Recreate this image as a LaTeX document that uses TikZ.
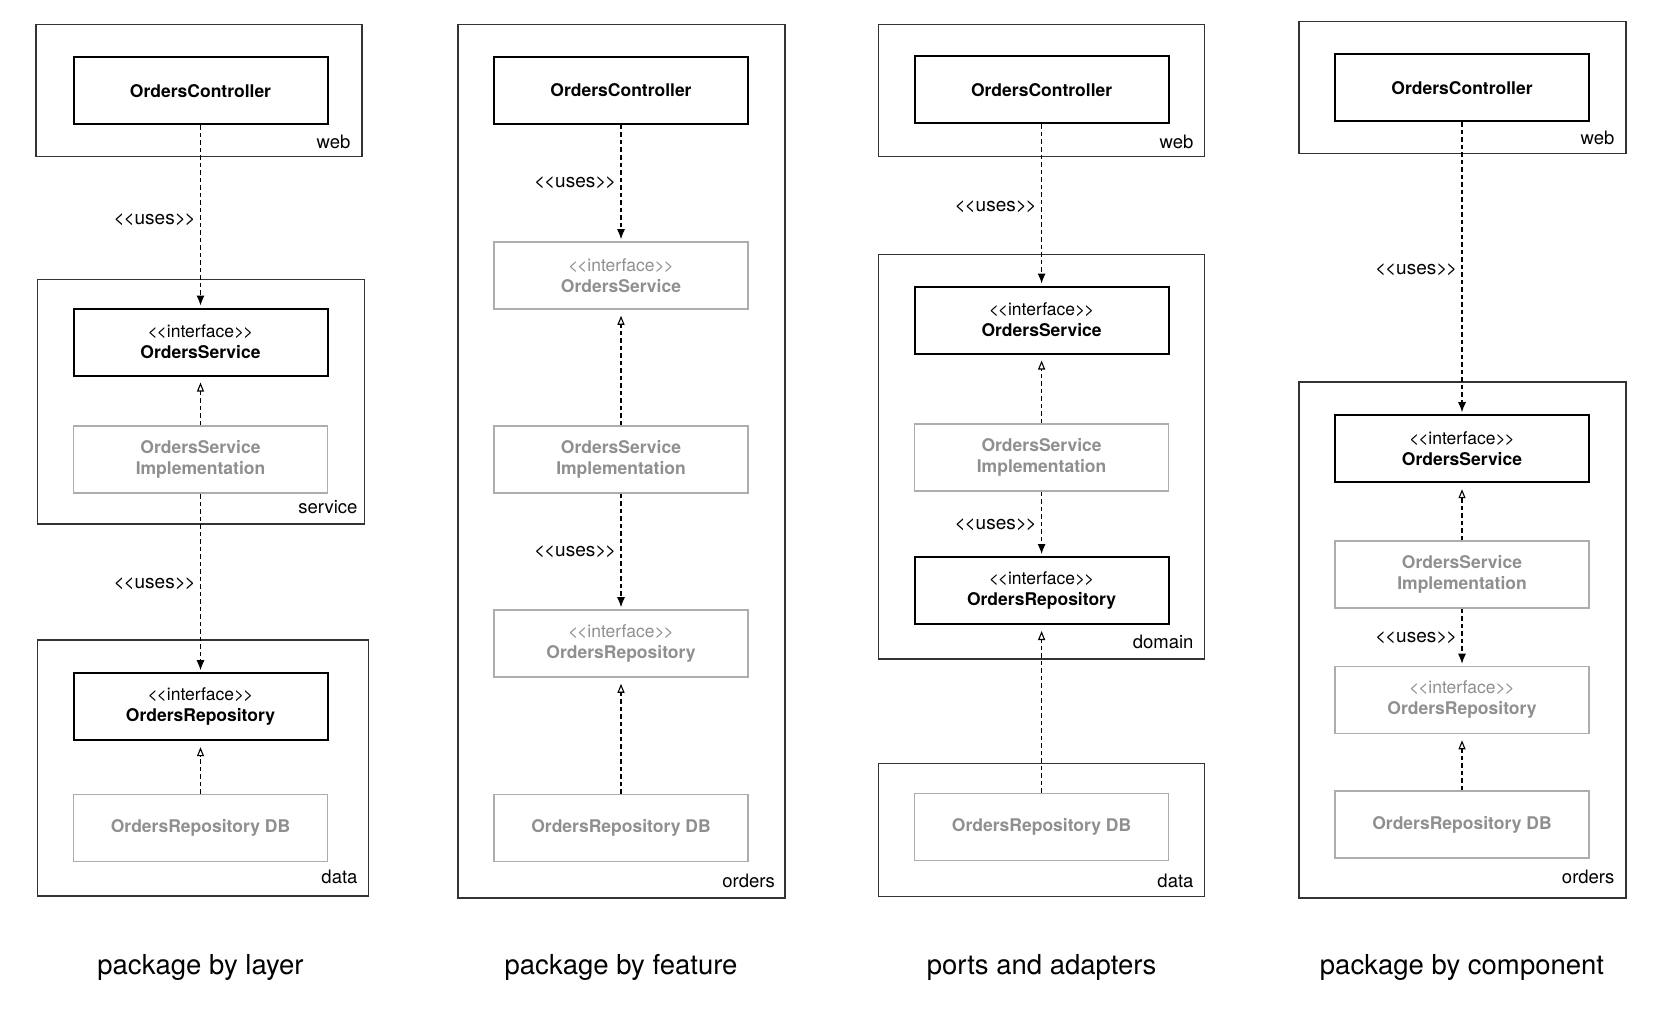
\documentclass[tikz,border=0pt]{standalone}
\usepackage{fontspec}
\setmainfont{TeX Gyre Heros}
\usetikzlibrary{positioning}
\usetikzlibrary{arrows.meta}
\definecolor{dimtext}{gray}{0.56}
\definecolor{dimline}{gray}{0.68}
\newcommand{\stereotype}[1]{<\kern-1.2pt<#1>\kern-1.2pt>}
\newcommand{\iface}[1]{\stereotype{interface}\\\textbf{#1}}
\tikzset{
  cls/.style={draw, line width=2pt, minimum width=254pt, minimum height=67pt,
    align=center, font=\fontsize{17.5}{21}\selectfont},
  dimcls/.style={cls, draw=dimline, line width=1.6pt, text=dimtext},
  pkg/.style={draw=black!80, line width=1.2pt},
  pkglabel/.style={anchor=base east, font=\fontsize{18.5}{21}\selectfont},
  useslabel/.style={anchor=east, inner sep=0pt, font=\fontsize{19}{21}\selectfont},
  uses/.style={dash pattern=on 4.5pt off 3pt, line width=1.1pt,
    -{Latex[length=10pt,width=8pt]}, shorten >=2pt},
  realizes/.style={dash pattern=on 4.5pt off 3pt, line width=1.1pt,
    -{Triangle[open,length=9pt,width=7pt]}, shorten >=6pt},
  caption/.style={font=\fontsize{27.5}{32}\selectfont}
}

\begin{document}
\begin{tikzpicture}[x=1pt, y=-1pt]

\useasboundingbox (0,0) rectangle (1670,1014);

% ---- package by layer ----
\draw[pkg] (36,24.5) rectangle (362,156.7);
\draw[pkg] (37.3,279.3) rectangle (364.3,524);
\draw[pkg] (37.3,640) rectangle (368.5,896);
\node[pkglabel] (web1) at (354,148) {web};
\node[pkglabel] (service1) at (361,513) {service};
\node[pkglabel] (data1) at (361,883) {data};

\node[cls] (ctrl1) at (200.5,90.8) {\textbf{OrdersController}};
\node[cls] (svc1) at (200.5,342) {\iface{OrdersService}};
\node[dimcls] (impl1) at (200.5,459.7) {\textbf{OrdersService}\\\textbf{Implementation}};
\node[cls] (repo1) at (200.5,706.7) {\iface{OrdersRepository}};
\node[dimcls] (db1) at (200.5,828) {\textbf{OrdersRepository DB}};

\draw[uses] (ctrl1) -- (svc1);
\draw[realizes] (impl1) -- (svc1);
\draw[uses] (impl1) -- (repo1);
\draw[realizes] (db1) -- (repo1);
\node[useslabel] (uses1a) at (196,220) {\stereotype{uses}};
\node[useslabel] (uses1b) at (196,584) {\stereotype{uses}};

\node[caption] (cap1) at (200.5,967) {package by layer};

% ---- package by feature ----
\draw[pkg] (458,24.5) rectangle (785,898);
\node[pkglabel] (orders2) at (778.5,887) {orders};

\node[cls] (ctrl2) at (621,90.5) {\textbf{OrdersController}};
\node[dimcls] (svc2) at (621,275.5) {\iface{OrdersService}};
\node[dimcls] (impl2) at (621,459.5) {\textbf{OrdersService}\\\textbf{Implementation}};
\node[dimcls] (repo2) at (621,643.5) {\iface{OrdersRepository}};
\node[dimcls] (db2) at (621,828) {\textbf{OrdersRepository DB}};

\draw[uses] (ctrl2) -- (svc2);
\draw[realizes] (impl2) -- (svc2);
\draw[uses] (impl2) -- (repo2);
\draw[realizes] (db2) -- (repo2);
\node[useslabel] (uses2a) at (616.5,183) {\stereotype{uses}};
\node[useslabel] (uses2b) at (616.5,552) {\stereotype{uses}};

\node[caption] (cap2) at (621,967) {package by feature};

% ---- ports and adapters ----
\draw[pkg] (878.6,24.5) rectangle (1204.5,156.6);
\draw[pkg] (878.6,254.5) rectangle (1204.5,659);
\draw[pkg] (878.6,763.6) rectangle (1204.5,896.7);
\node[pkglabel] (web3) at (1197,149) {web};
\node[pkglabel] (domain3) at (1197,648) {domain};
\node[pkglabel] (data3) at (1197,887) {data};

\node[cls] (ctrl3) at (1041.6,90) {\textbf{OrdersController}};
\node[cls] (svc3) at (1041.6,320) {\iface{OrdersService}};
\node[dimcls] (impl3) at (1041.6,457.5) {\textbf{OrdersService}\\\textbf{Implementation}};
\node[cls] (repo3) at (1041.6,590.5) {\iface{OrdersRepository}};
\node[dimcls] (db3) at (1041.6,827) {\textbf{OrdersRepository DB}};

\draw[uses] (ctrl3) -- (svc3);
\draw[realizes] (impl3) -- (svc3);
\draw[uses] (impl3) -- (repo3);
\draw[realizes] (db3) -- (repo3);
\node[useslabel] (uses3a) at (1037,206.6) {\stereotype{uses}};
\node[useslabel] (uses3b) at (1037,525) {\stereotype{uses}};

\node[caption] (cap3) at (1041.6,967) {ports and adapters};

% ---- package by component ----
\draw[pkg] (1299,21.3) rectangle (1626,153.4);
\draw[pkg] (1299,382) rectangle (1626,898);
\node[pkglabel] (web4) at (1618,145) {web};
\node[pkglabel] (orders4) at (1618,883) {orders};

\node[cls] (ctrl4) at (1462,87.9) {\textbf{OrdersController}};
\node[cls] (svc4) at (1462,448.7) {\iface{OrdersService}};
\node[dimcls] (impl4) at (1462,574.5) {\textbf{OrdersService}\\\textbf{Implementation}};
\node[dimcls] (repo4) at (1462,700) {\iface{OrdersRepository}};
\node[dimcls] (db4) at (1462,824.5) {\textbf{OrdersRepository DB}};

\draw[uses] (ctrl4) -- (svc4);
\draw[realizes] (impl4) -- (svc4);
\draw[uses] (impl4) -- (repo4);
\draw[realizes] (db4) -- (repo4);
\node[useslabel] (uses4a) at (1457.5,269.4) {\stereotype{uses}};
\node[useslabel] (uses4b) at (1457.5,638) {\stereotype{uses}};

\node[caption] (cap4) at (1462,967) {package by component};

\end{tikzpicture}
\end{document}
